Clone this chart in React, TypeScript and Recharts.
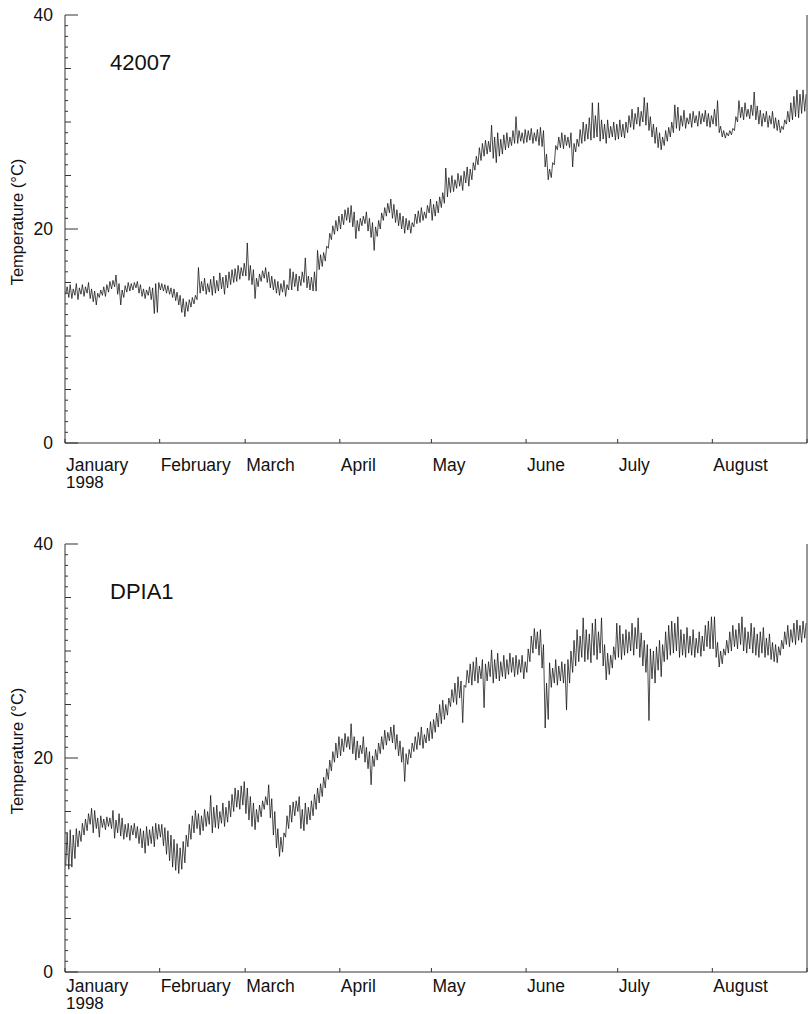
import { LineChart, Line, XAxis, YAxis, Customized } from 'recharts';

// Jan–Aug 1998: month lengths and the day-of-year (from Jan 1) each month starts on
const monthDays = [31, 28, 31, 30, 31, 30, 31, 31];
const monthStarts = [0, 31, 59, 90, 120, 151, 181, 212, 243];
const monthNames = ['January', 'February', 'March', 'April', 'May', 'June', 'July', 'August'];
const tempTicks = Array.from({ length: 41 }, (_, i) => i);

// Buoy 42007 — daily low, high pairs (°C)
const jan42007 = [
	13.9, 14.6, 13.6, 14.8, 13.5, 14.4, 13.8, 14.9, 13.4, 14.5, 13.9, 14.8, 13.7, 14.6, 14.0, 15.0,
	13.5, 14.4, 13.2, 14.2, 12.9, 14.0, 13.6, 14.3, 13.8, 14.6, 13.7, 14.8, 14.1, 15.1, 14.4, 15.2,
	14.6, 15.7, 13.9, 14.9, 12.9, 14.3, 13.6, 14.7, 14.1, 15.0, 14.2, 14.9, 14.3, 15.0, 14.5, 15.1,
	14.0, 14.8, 13.7, 14.4, 13.5, 14.3, 13.8, 14.6, 13.4, 14.5, 12.1, 14.9, 12.2, 15.0,
];
const feb42007 = [
	14.3, 14.9, 14.2, 14.8, 14.0, 14.7, 13.9, 14.5, 13.6, 14.4, 13.3, 14.1, 12.9, 13.8, 12.2, 13.5,
	11.8, 13.2, 12.3, 13.4, 12.7, 13.6, 13.0, 13.8, 13.4, 16.4, 14.0, 15.1, 14.2, 15.4, 13.9, 14.9,
	14.1, 15.3, 13.8, 15.6, 14.0, 15.2, 14.2, 15.9, 14.4, 15.5, 13.9, 15.7, 14.5, 16.0, 14.8, 16.2,
	15.0, 16.3, 15.1, 16.6, 15.3, 16.4, 15.6, 16.8,
];
const mar42007 = [
	15.6, 18.7, 15.2, 16.6, 14.8, 16.2, 13.5, 15.4, 14.6, 15.8, 15.1, 16.1, 15.4, 16.4, 15.0, 16.0,
	14.5, 15.6, 14.3, 15.3, 14.0, 15.1, 13.8, 14.9, 14.1, 15.2, 13.7, 14.8, 14.3, 16.3, 14.3, 16.0,
	14.6, 15.8, 14.2, 15.6, 14.7, 16.0, 15.0, 17.3, 14.5, 15.6, 14.3, 15.5, 14.2, 16.0, 14.2, 18.0,
	16.2, 17.6, 16.5, 17.8, 17.0, 18.4, 18.2, 19.6, 19.0, 20.3, 19.5, 20.8, 19.8, 21.2,
];
const apr42007 = [
	20.0, 21.4, 20.4, 21.8, 20.8, 22.0, 20.6, 22.2, 20.2, 21.6, 19.1, 20.8, 19.8, 21.0, 20.3, 21.2,
	20.5, 21.6, 19.8, 21.0, 19.2, 20.6, 18.0, 20.2, 19.3, 20.8, 20.0, 21.5, 20.8, 22.0, 21.2, 22.4,
	21.5, 22.8, 21.0, 22.3, 20.6, 21.8, 20.3, 21.5, 20.0, 21.2, 19.6, 21.0, 19.9, 20.8, 19.6, 20.6,
	20.2, 21.4, 20.5, 21.7, 20.6, 22.0, 20.8, 21.6, 21.0, 22.2, 21.5, 22.8,
];
const may42007 = [
	20.8, 22.3, 21.2, 22.6, 21.5, 23.0, 22.0, 23.4, 22.4, 25.7, 23.0, 24.8, 23.4, 25.0, 23.5, 24.6,
	23.8, 25.2, 24.0, 25.0, 23.6, 25.4, 24.3, 25.8, 24.0, 25.6, 24.6, 26.2, 25.5, 26.8, 26.0, 27.6,
	26.4, 28.0, 26.8, 28.3, 27.0, 28.2, 27.2, 29.7, 26.6, 28.6, 26.2, 29.0, 26.8, 28.4, 27.0, 28.8,
	27.4, 29.0, 27.6, 28.6, 27.8, 29.2, 28.0, 30.5, 28.0, 29.2, 28.2, 29.0, 28.0, 29.3,
];
const jun42007 = [
	28.1, 29.2, 28.3, 29.4, 28.0, 29.0, 28.2, 29.3, 27.8, 29.5, 27.7, 29.2, 25.8, 27.0, 24.6, 25.6,
	24.8, 26.2, 26.0, 27.8, 27.4, 28.6, 27.6, 29.0, 27.5, 28.8, 27.8, 28.6, 27.6, 29.0, 25.8, 28.0,
	27.2, 28.4, 27.7, 29.3, 28.0, 30.0, 28.2, 29.8, 28.4, 30.4, 28.3, 31.8, 28.5, 30.6, 28.6, 31.8,
	28.2, 30.2, 28.4, 29.8, 28.0, 30.2, 28.5, 29.6, 28.6, 30.0, 28.3, 29.8,
];
const jul42007 = [
	28.4, 30.2, 28.6, 29.8, 28.5, 30.0, 29.0, 30.6, 29.5, 31.2, 29.3, 30.8, 29.8, 31.4, 29.6, 31.0,
	30.0, 32.3, 29.7, 31.8, 29.2, 30.5, 28.6, 29.8, 28.0, 29.5, 27.6, 29.0, 27.4, 28.6, 27.8, 29.2,
	28.2, 29.5, 28.6, 30.0, 29.0, 31.6, 29.4, 31.4, 29.2, 30.6, 29.6, 31.1, 29.4, 30.4, 29.8, 30.8,
	29.5, 31.0, 29.9, 30.6, 29.6, 31.0, 29.8, 30.8, 30.0, 31.1, 29.6, 30.8, 29.5, 30.6,
];
const aug42007 = [
	29.8, 31.2, 29.6, 32.0, 29.0, 29.6, 28.6, 29.2, 28.5, 29.0, 28.7, 29.2, 28.8, 29.4, 29.2, 30.5,
	30.0, 32.0, 30.4, 31.4, 30.2, 31.8, 30.5, 31.2, 30.3, 31.6, 30.6, 32.8, 30.2, 31.5, 29.8, 31.1,
	29.6, 30.8, 30.0, 31.0, 29.5, 30.6, 29.8, 31.0, 29.4, 30.4, 29.2, 30.2, 29.0, 29.6, 29.3, 30.2,
	29.8, 31.0, 30.0, 31.8, 30.2, 32.4, 30.5, 33.0, 30.4, 32.6, 30.8, 33.0, 31.0, 32.6,
];

// Station DPIA1 — daily low, high pairs (°C)
const janDPIA1 = [
	10.0, 13.0, 9.6, 13.3, 9.8, 12.8, 10.6, 13.4, 11.7, 13.2, 12.2, 13.9, 12.8, 14.3, 13.2, 14.8,
	13.8, 15.3, 13.0, 15.1, 13.4, 14.4, 12.6, 14.6, 13.5, 14.3, 13.3, 14.5, 13.6, 14.4, 13.4, 15.1,
	12.5, 14.2, 13.0, 14.8, 12.7, 14.4, 12.4, 13.8, 12.6, 13.9, 12.3, 13.7, 12.8, 13.9, 12.5, 13.6,
	12.0, 13.4, 11.6, 13.2, 11.1, 13.6, 11.8, 13.3, 12.0, 13.6, 11.7, 13.9, 12.4, 13.8,
];
const febDPIA1 = [
	12.6, 13.8, 11.8, 13.5, 11.0, 13.2, 10.4, 12.8, 9.8, 12.4, 9.5, 12.0, 9.2, 11.6, 9.6, 12.2,
	10.2, 12.8, 11.7, 13.8, 12.4, 14.6, 13.0, 15.1, 13.4, 14.8, 12.8, 14.6, 13.2, 15.2, 13.6, 15.0,
	13.8, 16.5, 13.0, 15.4, 13.5, 15.6, 13.4, 15.0, 13.9, 15.8, 13.6, 15.4, 14.0, 16.0, 14.5, 16.6,
	15.0, 17.2, 15.4, 17.0, 15.2, 17.4, 15.6, 17.8,
];
const marDPIA1 = [
	14.8, 17.2, 14.2, 16.4, 13.6, 15.8, 13.3, 15.2, 14.0, 15.6, 14.5, 16.0, 15.2, 16.4, 15.6, 17.5,
	14.4, 16.2, 12.8, 15.0, 11.6, 13.4, 10.8, 12.6, 11.2, 13.0, 12.6, 14.6, 13.4, 15.6, 14.0, 15.9,
	14.6, 16.0, 15.0, 16.4, 13.4, 15.2, 13.2, 15.8, 13.8, 15.4, 14.2, 16.0, 14.6, 16.6, 15.2, 17.2,
	15.8, 17.6, 16.4, 18.2, 17.2, 19.0, 18.0, 19.8, 18.8, 20.6, 19.6, 21.4, 20.0, 22.0,
];
const aprDPIA1 = [
	20.2, 21.8, 20.6, 22.3, 21.0, 22.0, 20.8, 23.2, 20.4, 22.0, 19.8, 21.6, 20.0, 21.2, 20.4, 22.0,
	19.6, 21.0, 19.0, 20.6, 17.5, 20.2, 19.2, 20.8, 19.8, 21.4, 20.4, 22.0, 20.8, 22.6, 21.2, 22.4,
	21.6, 22.9, 21.4, 23.1, 20.8, 22.2, 20.2, 21.6, 19.6, 21.0, 17.8, 20.4, 19.4, 20.8, 20.0, 21.4,
	20.6, 22.0, 20.8, 22.4, 21.2, 22.9, 20.9, 22.2, 21.4, 22.8, 21.6, 23.4,
];
const mayDPIA1 = [
	21.8, 23.6, 22.4, 24.2, 22.9, 25.0, 23.2, 25.4, 23.6, 25.0, 24.0, 25.6, 24.8, 26.4, 25.2, 27.0,
	25.0, 27.6, 25.6, 27.2, 23.3, 26.8, 26.6, 28.2, 27.0, 28.8, 26.8, 29.0, 27.2, 29.4, 27.0, 28.6,
	27.4, 29.2, 24.7, 28.8, 27.2, 29.0, 27.6, 30.1, 27.0, 29.2, 27.4, 29.8, 27.2, 29.0, 27.6, 29.6,
	27.4, 29.2, 27.8, 29.8, 28.0, 29.4, 27.6, 29.6, 27.8, 29.2, 28.0, 29.6, 27.4, 29.0,
];
const junDPIA1 = [
	28.0, 30.2, 29.0, 31.4, 29.8, 32.1, 30.2, 31.8, 29.6, 32.0, 28.4, 30.6, 22.8, 27.0, 23.6, 28.9,
	26.6, 28.4, 27.0, 29.2, 26.8, 28.6, 27.2, 29.0, 27.0, 28.8, 24.5, 29.2, 27.0, 30.0, 28.0, 31.0,
	28.6, 32.0, 29.0, 31.4, 29.4, 33.1, 29.0, 32.0, 29.2, 31.6, 28.9, 32.6, 29.6, 33.0, 29.2, 31.8,
	29.8, 33.1, 28.6, 30.6, 27.3, 29.8, 27.8, 29.6, 28.4, 30.4, 29.2, 32.6,
];
const julDPIA1 = [
	29.4, 32.4, 29.2, 31.6, 29.6, 32.0, 29.8, 31.8, 30.0, 32.6, 29.6, 32.2, 30.2, 33.1, 29.4, 31.7,
	28.6, 31.0, 28.0, 30.6, 23.5, 30.2, 27.4, 30.0, 27.0, 30.4, 28.2, 31.0, 27.6, 30.6, 29.0, 31.8,
	29.2, 32.4, 29.6, 32.8, 29.8, 32.6, 30.0, 33.2, 29.4, 32.0, 29.6, 31.6, 29.4, 32.2, 29.8, 31.4,
	29.6, 32.0, 29.4, 31.2, 29.8, 31.8, 29.5, 31.4, 30.0, 32.4, 30.4, 32.8, 30.2, 33.2,
];
const augDPIA1 = [
	30.2, 33.2, 29.4, 30.8, 28.5, 30.0, 28.8, 30.2, 29.6, 31.0, 29.8, 31.8, 30.0, 32.4, 30.4, 32.0,
	30.2, 32.6, 30.6, 33.2, 30.0, 32.2, 29.8, 31.8, 30.2, 32.6, 29.8, 32.2, 29.6, 31.6, 29.4, 31.8,
	29.8, 32.2, 29.4, 31.2, 29.6, 31.6, 29.2, 30.8, 29.0, 30.6, 28.9, 30.4, 29.6, 31.0, 30.2, 31.8,
	30.6, 32.4, 30.4, 32.0, 30.8, 32.6, 30.6, 32.9, 31.0, 32.4, 30.8, 32.8, 31.2, 32.6,
];

// low reading early in the day, high in the afternoon
function buildSeries(months: number[][]) {
	const pts: { t: number; v: number }[] = [];
	let start = 0;
	months.forEach((m, mi) => {
		for (let d = 0; d < m.length / 2; d++) {
			pts.push({ t: start + d + 0.25, v: m[2 * d] });
			pts.push({ t: start + d + 0.7, v: m[2 * d + 1] });
		}
		start += monthDays[mi];
	});
	return pts;
}

const buoy = buildSeries([jan42007, feb42007, mar42007, apr42007, may42007, jun42007, jul42007, aug42007]);
const coastal = buildSeries([janDPIA1, febDPIA1, marDPIA1, aprDPIA1, mayDPIA1, junDPIA1, julDPIA1, augDPIA1]);

const FONT = '"Liberation Sans", Arial, Helvetica, sans-serif';
const AXIS = '#333';

const tempTick = (side: 'left' | 'right') => (p: any) => {
	const v = p.payload.value;
	const len = v % 20 === 0 ? 13 : v % 5 === 0 ? 6 : 3;
	const dir = side === 'left' ? 1 : -1;
	return (
		<g>
			<line x1={p.x} x2={p.x + dir * len} y1={p.y} y2={p.y} stroke={AXIS} strokeWidth={1} />
			{side === 'left' && v % 20 === 0 && (
				<text x={p.x - 12} y={p.y} dy='0.36em' textAnchor='end' fontSize={17.5} fontFamily={FONT} fill='#111'>
					{v}
				</text>
			)}
		</g>
	);
};

// month names start at their tick; the year sits under January
const monthTick = (labelDy: number) => (p: any) => {
	const i = monthStarts.indexOf(p.payload.value);
	return (
		<g>
			<line x1={p.x} x2={p.x} y1={p.y} y2={p.y - 4} stroke={AXIS} strokeWidth={1} />
			{i < monthNames.length && (
				<text x={p.x + 1} y={p.y + labelDy} fontSize={17.5} fontFamily={FONT} fill='#111'>
					{monthNames[i]}
				</text>
			)}
			{i === 0 && (
				<text x={p.x + 1} y={p.y + labelDy + 17} fontSize={17} fontFamily={FONT} fill='#111'>
					1998
				</text>
			)}
		</g>
	);
};

const topTick = (p: any) => <line x1={p.x} x2={p.x} y1={p.y} y2={p.y + 4} stroke={AXIS} strokeWidth={1} />;

const Panel = ({ name, data, top, labelDy }: { name: string; data: { t: number; v: number }[]; top: number; labelDy: number }) => (
	<div style={{ position: 'absolute', left: 0, top }}>
		<LineChart width={808} height={500} data={data} margin={{ top: 15, right: 0, bottom: 0, left: 0 }}>
			<XAxis
				xAxisId='b'
				dataKey='t'
				type='number'
				domain={[0, 243]}
				ticks={monthStarts}
				interval={0}
				tickSize={0}
				tickMargin={0}
				height={57}
				stroke={AXIS}
				tick={monthTick(labelDy)}
				allowDataOverflow
			/>
			<XAxis
				xAxisId='top'
				orientation='top'
				dataKey='t'
				type='number'
				domain={[0, 243]}
				ticks={monthStarts}
				interval={0}
				tickSize={0}
				tickMargin={0}
				height={0}
				stroke={AXIS}
				tick={topTick}
				allowDataOverflow
			/>
			<YAxis
				yAxisId='l'
				type='number'
				domain={[0, 40]}
				ticks={tempTicks}
				interval={0}
				tickSize={0}
				tickMargin={0}
				width={65}
				stroke={AXIS}
				tick={tempTick('left')}
			/>
			<YAxis
				yAxisId='r'
				orientation='right'
				type='number'
				domain={[0, 40]}
				ticks={tempTicks}
				interval={0}
				tickSize={0}
				tickMargin={0}
				width={1}
				stroke={AXIS}
				tick={tempTick('right')}
			/>
			<Line
				xAxisId='b'
				yAxisId='l'
				dataKey='v'
				type='linear'
				dot={false}
				stroke='#111'
				strokeWidth={0.75}
				isAnimationActive={false}
			/>
			<Customized
				component={() => (
					<g fontFamily={FONT} fill='#111'>
						<text x={110} y={70} fontSize={22}>
							{name}
						</text>
						<text x={23} y={222} fontSize={16.5} textAnchor='middle' transform='rotate(-90, 23, 222)'>
							Temperature (°C)
						</text>
					</g>
				)}
			/>
		</LineChart>
	</div>
);

export default function App() {
	return (
		<div style={{ position: 'absolute', left: 0, top: 0, width: 808, height: 1014, overflow: 'hidden', background: '#fff' }}>
			<Panel name='42007' data={buoy} top={0} labelDy={28} />
			<Panel name='DPIA1' data={coastal} top={529} labelDy={20} />
		</div>
	);
}
